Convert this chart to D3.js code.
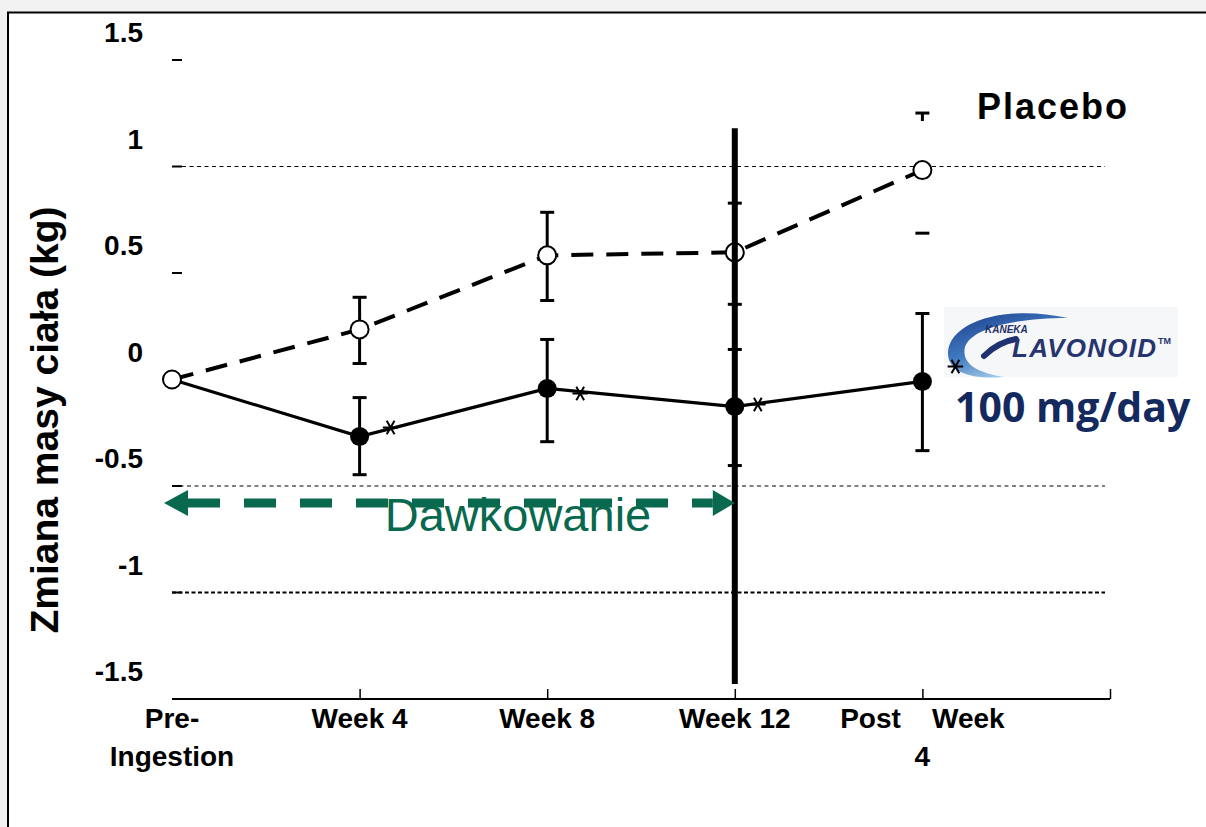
<!DOCTYPE html>
<html>
<head>
<meta charset="utf-8">
<script src="https://cdn.jsdelivr.net/npm/d3@7"></script>
<style>
  html, body { margin: 0; padding: 0; background: #f2f2f2; }
  svg { display: block; }
</style>
</head>
<body>
<svg id="chart" width="1206" height="827"></svg>
<script>
// ---------------- DATA ----------------
const categories = ["Pre-Ingestion", "Week 4", "Week 8", "Week 12", "Post Week 4"];
const xTickLabels = [["Pre-", "Ingestion"], ["Week 4"], ["Week 8"], ["Week 12"], ["Post\u00a0\u00a0\u00a0\u00a0Week", "4"]];

const placeboMean  = [0, 0.235, 0.583, 0.597, 0.983];
const placeboUpper = [null, 0.386, 0.785, 0.828, 1.251];
const placeboLower = [null, 0.075, 0.371, 0.353, 0.687];

const flavMean  = [0, -0.268, -0.042, -0.127, -0.009];
const flavUpper = [null, -0.085, 0.188, 0.141, 0.310];
const flavLower = [null, -0.447, -0.292, -0.404, -0.334];
const flavSignificant = [false, true, true, true, true];

const yTicks = [1.5, 1, 0.5, 0, -0.5, -1, -1.5];
const yTickLabels = ["1.5", "1", "0.5", "0", "-0.5", "-1", "-1.5"];
const gridValues = [1, -0.5, -1];

const seriesLabels = ["Placebo", "100 mg/day"];
const yTitle = "Zmiana masy ciała (kg)";
const dosingLabel = "Dawkowanie";
const dosingRange = [0, 3];      // category indices
const dosingValue = -0.58;
const week12LineRange = [1.18, -1.43];

// ---------------- LAYOUT ----------------
const svg = d3.select("#chart");
const font = "'Liberation Sans', Arial, Helvetica, sans-serif";

// frame (left & top border only visible)
svg.append("rect").attr("x", 8).attr("y", 12.5).attr("width", 1300).attr("height", 900)
  .attr("fill", "#fff").attr("stroke", "#000").attr("stroke-width", 2);

const x = d3.scalePoint().domain(d3.range(6)).range([172, 1110]);
const y = d3.scaleLinear().domain([-1.5, 1.5]).range([699, 60]);

// gridlines
svg.append("g").selectAll("line").data(gridValues).join("line")
  .attr("x1", d => d === 1 ? 182 : 172).attr("x2", 1105)
  .attr("y1", d => y(d)).attr("y2", d => y(d))
  .attr("stroke", "#000")
  .attr("stroke-width", d => d === -1 ? 1.8 : 1)
  .attr("stroke-dasharray", d => d === -1 ? "4,2.5" : "4,3.5");

// y tick dashes (no axis line)
svg.append("g").selectAll("line").data(yTicks.slice(0, -1)).join("line")
  .attr("x1", 172).attr("x2", 182)
  .attr("y1", d => y(d)).attr("y2", d => y(d))
  .attr("stroke", "#000").attr("stroke-width", 2);

// y tick labels (drawn above their ticks, as in the source)
svg.append("g").selectAll("text").data(yTicks).join("text")
  .attr("x", 143).attr("y", d => y(d) - 18)
  .attr("text-anchor", "end")
  .attr("font-family", font).attr("font-weight", "bold").attr("font-size", 28)
  .text((d, i) => yTickLabels[i]);

// x axis
const xAxis = d3.axisBottom(x).tickValues([1, 2, 3, 4, 5]).tickSize(-10).tickFormat("");
const gx = svg.append("g").attr("transform", "translate(0,699)").call(xAxis);
gx.select(".domain").attr("d", "M172,0H1110").attr("stroke-width", 2);
gx.selectAll(".tick line").attr("stroke-width", 1.5);

// x labels
const xl = svg.append("g").selectAll("text").data(xTickLabels).join("text")
  .attr("text-anchor", "middle")
  .attr("font-family", font).attr("font-weight", "bold").attr("font-size", 28)
  .attr("transform", (d, i) => `translate(${x(i)},0)`);
xl.selectAll("tspan").data(d => d).join("tspan")
  .attr("x", 0).attr("y", (d, j) => 728 + j * 38)
  .text(d => d);

// y title
svg.append("text")
  .attr("transform", "translate(58,420) rotate(-90)")
  .attr("text-anchor", "middle")
  .attr("font-family", font).attr("font-weight", "bold").attr("font-size", 39)
  .text(yTitle);

// error bars
function errorBars(mean, upper, lower, capsOnly) {
  const g = svg.append("g").attr("stroke", "#000").attr("stroke-width", 3);
  mean.forEach((m, i) => {
    if (upper[i] == null) return;
    const cx = x(i);
    if (capsOnly(i)) {
      g.append("line").attr("x1", cx).attr("x2", cx).attr("y1", y(upper[i])).attr("y2", y(upper[i]) + 8);
    } else {
      g.append("line").attr("x1", cx).attr("x2", cx).attr("y1", y(upper[i])).attr("y2", y(lower[i]));
    }
    [upper[i], lower[i]].forEach(v => {
      g.append("line").attr("x1", cx - 7).attr("x2", cx + 7).attr("y1", y(v)).attr("y2", y(v));
    });
  });
}
errorBars(placeboMean, placeboUpper, placeboLower, i => i === 4);
errorBars(flavMean, flavUpper, flavLower, () => false);

// lines
const line = d3.line().x((d, i) => x(i)).y(d => y(d));
svg.append("path").datum(flavMean).attr("d", line)
  .attr("fill", "none").attr("stroke", "#000").attr("stroke-width", 3.2);
svg.append("path").datum(placeboMean).attr("d", line)
  .attr("fill", "none").attr("stroke", "#000").attr("stroke-width", 4)
  .attr("stroke-dasharray", "22,13");

// treatment points
svg.append("g").selectAll("circle").data(flavMean.slice(1)).join("circle")
  .attr("cx", (d, i) => x(i + 1)).attr("cy", d => y(d)).attr("r", 9.5)
  .attr("fill", "#000");

// placebo points (open)
svg.append("g").selectAll("circle").data(placeboMean).join("circle")
  .attr("cx", (d, i) => x(i)).attr("cy", d => y(d)).attr("r", 9)
  .attr("fill", "#fff").attr("stroke", "#000").attr("stroke-width", 2);

// thick vertical line at Week 12
svg.append("line")
  .attr("x1", x(3)).attr("x2", x(3))
  .attr("y1", y(week12LineRange[0])).attr("y2", y(week12LineRange[1]))
  .attr("stroke", "#000").attr("stroke-width", 6);

// dosing arrow
const green = "#08694e";
const ay = y(dosingValue);
const ax0 = x(dosingRange[0]) - 8, ax1 = x(dosingRange[1]);
svg.append("line")
  .attr("x1", ax0 + 24).attr("x2", ax1 - 22).attr("y1", ay).attr("y2", ay)
  .attr("stroke", green).attr("stroke-width", 9)
  .attr("stroke-dasharray", "32,24");
svg.append("path")
  .attr("d", `M${ax0},${ay} L${ax0 + 24},${ay - 13} L${ax0 + 24},${ay + 13} Z`)
  .attr("fill", green);
svg.append("path")
  .attr("d", `M${ax1},${ay} L${ax1 - 22},${ay - 13} L${ax1 - 22},${ay + 13} Z`)
  .attr("fill", green);
svg.append("text")
  .attr("x", 518).attr("y", 531).attr("text-anchor", "middle")
  .attr("font-family", font).attr("font-size", 47).attr("fill", green)
  .text(dosingLabel);

// legend: Placebo
svg.append("text")
  .attr("x", 977).attr("y", 119)
  .attr("font-family", font).attr("font-weight", "bold").attr("font-size", 36)
  .attr("textLength", 150)
  .text(seriesLabels[0]);

// logo (approximation)
const defs = svg.append("defs");
const grad = defs.append("linearGradient").attr("id", "swoosh").attr("x1", "0").attr("y1", "0").attr("x2", "0.6").attr("y2", "1");
grad.append("stop").attr("offset", "0").attr("stop-color", "#1e3a8a");
grad.append("stop").attr("offset", "0.55").attr("stop-color", "#3f7bc0");
grad.append("stop").attr("offset", "1").attr("stop-color", "#b9dcf0");
const logo = svg.append("g");
logo.append("rect").attr("x", 944).attr("y", 307).attr("width", 234).attr("height", 70).attr("fill", "#f6f7f9");
logo.append("path")
  .attr("d", "M1068,318 C1005,304 950,322 948,352 C947,372 972,380 1004,377 C978,373 961,364 965,347 C971,329 1012,318 1068,318 Z")
  .attr("fill", "url(#swoosh)");
logo.append("path")
  .attr("d", "M984,356 C994,346 1004,341 1016,339")
  .attr("fill", "none").attr("stroke", "#1f3170").attr("stroke-width", 6).attr("stroke-linecap", "round");
logo.append("text").attr("x", 985).attr("y", 333)
  .attr("font-family", font).attr("font-weight", "bold").attr("font-style", "italic").attr("font-size", 10)
  .attr("fill", "#1f2f66").text("KANEKA");
logo.append("text").attr("x", 1012).attr("y", 357)
  .attr("font-family", font).attr("font-weight", "bold").attr("font-style", "italic").attr("font-size", 26)
  .attr("textLength", 144).attr("fill", "#26356e").text("LAVONOID");
logo.append("text").attr("x", 1158).attr("y", 344)
  .attr("font-family", font).attr("font-weight", "bold").attr("font-size", 9)
  .attr("fill", "#26356e").text("TM");

// significance stars (asterisk symbols), drawn on top of the logo
const starOffsets = [[0, 0], [31, -9], [33, 5], [23, -2], [33, -15]];
const starSym = d3.symbol().type(d3.symbolAsterisk).size(170);
svg.append("g").selectAll("path")
  .data(flavMean.map((v, i) => ({v, i})).filter(d => flavSignificant[d.i]))
  .join("path")
  .attr("d", starSym)
  .attr("transform", d => `translate(${x(d.i) + starOffsets[d.i][0]},${y(d.v) + starOffsets[d.i][1]}) rotate(90)`)
  .attr("fill", "none").attr("stroke", "#000").attr("stroke-width", 2);

// legend: 100 mg/day
svg.append("text")
  .attr("x", 955).attr("y", 422)
  .attr("font-family", "'Open Sans', 'Noto Sans', sans-serif").attr("font-weight", "bold").attr("font-size", 41)
  .attr("fill", "#142a5e")
  .text(seriesLabels[1]);
</script>
</body>
</html>
